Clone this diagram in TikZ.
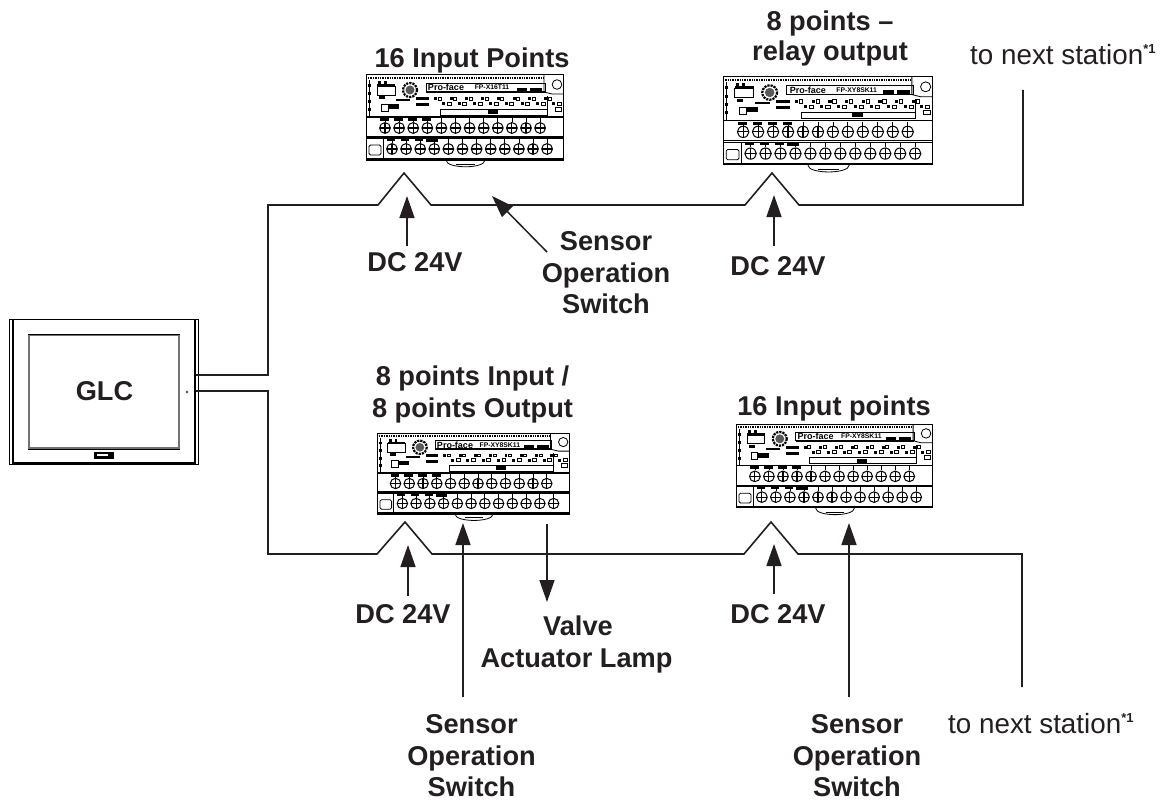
\documentclass[tikz,border=0pt]{standalone}
\usepackage{fontspec}
\setmainfont{Liberation Sans}
\usetikzlibrary{arrows.meta}
\definecolor{ink}{HTML}{231F20}
\tikzset{
  x=1pt,y=-1pt,
  bus/.style={draw=ink,line width=1.6pt,line join=miter},
  sig/.style={draw=ink,line width=1.5pt,-{Triangle[length=22pt,width=15pt]}},
  lab/.style={text=ink,anchor=base,font=\fontsize{27.2}{30}\selectfont\bfseries,inner sep=0pt},
  plain/.style={text=ink,anchor=base west,font=\fontsize{27.8}{30}\selectfont,inner sep=0pt},
  modline/.style={draw=black,line width=0.8pt},
  screw/.style={draw=black,line width=1pt,fill=white},
}
\newcommand{\nextnote}{to next station\raisebox{11pt}{\fontsize{13}{14}\selectfont\bfseries *1}}
\newcommand{\mymodule}[6]{% name,x,y,xscale,yscale,model
\begin{scope}[shift={(#2,#3)},xscale=#4,yscale=#5]
  \coordinate (#1) at (98,40);
  % tab
  \draw[modline] (80,85) .. controls (80,94) and (119,94) .. (119,85);
  \draw[modline] (90,89) -- (109,89);
  % body
  \draw[draw=black,line width=1pt,fill=white] (0,0) rectangle (197,85);
  \draw[black,line width=1.8pt] (0,84) -- (197,84);
  \draw[black,line width=1.4pt,densely dotted] (2,3) -- (178,3);
  % top-left details
  \draw[modline] (3,5) -- (3,42);
  \foreach \yy in {9,17,25,33} \fill[black] (2,\yy) rectangle (5,\yy+3);
  \draw[modline] (11,11) rectangle (29,20);
  \fill[black] (11,9) rectangle (29,12);
  \fill[black] (12,6) rectangle (15,10);
  \fill[black] (18,6) rectangle (21,10);
  \fill[black] (13,21) rectangle (19,24);
  \draw[modline] (15,29) rectangle (22,36);
  \fill[black] (22,29) rectangle (33,34);
  \fill[black] (30,24) rectangle (44,26);
  % dial
  \draw[black,line width=2.2pt,densely dotted] (44,15) circle (7);
  \fill[black!65] (44,15) circle (4.5);
  % name plate
  \draw[modline] (60,8) rectangle (179,17);
  \draw[black,line width=1.5pt] (60,17) -- (179,17);
  \node[inner sep=0pt,font=\fontsize{9}{10}\selectfont\bfseries] (#1p) at (80,12.5) {Pro-face};
  \node[inner sep=0pt,font=\fontsize{6.8}{8}\selectfont\bfseries] (#1q) at (126,12.5) {#6};
  \fill[black] (151,13) rectangle (161,16);
  \fill[black] (164,13) rectangle (176,16);
  % LEDs
  \fill[black] (50,22) rectangle (63,25);
  \fill[black] (50,28) rectangle (63,31);
  \foreach \i in {0,...,7} {
    \draw[black,line width=0.7pt] (72+\i*15.7,22) rectangle (75+\i*15.7,25);
    \fill[black] (68+\i*15.7,22) rectangle (71+\i*15.7,25);
    \draw[black,line width=0.7pt] (81+\i*15.7,27) rectangle (85+\i*15.7,30);
    \fill[black] (76+\i*15.7,27) rectangle (79+\i*15.7,30);
  }
  % right corner
  \draw[modline] (178,0) -- (178,17) -- (186,19) -- (197,19);
  \draw[modline] (191,9.5) circle (4.8);
  \draw[modline] (181,21) -- (181,39);
  \draw[modline] (189,32) rectangle (195,36);
  % group bar
  \draw[modline] (74,34) rectangle (181,40);
  \fill[black] (122,35) rectangle (132,39);
  % terminal strips
  \draw[black,line width=1.1pt] (0,42) -- (197,42);
  \draw[black,line width=1.1pt] (0,63) -- (197,63);
  \draw[black,line width=0.5pt] (0,61.5) -- (197,61.5);
  \draw[modline] (17,63) -- (17,84);
  \draw[modline,rounded corners=1.5pt] (3,70) rectangle (15,80);
  \foreach \i in {0,...,11} {
    \draw[black,line width=0.8pt] (19+\i*14.1,43) -- (19+\i*14.1,47);
    \draw[screw] (19+\i*14.1,53) circle (5.4);
    \draw[black,line width=1.1pt] (19+\i*14.1,48) -- (19+\i*14.1,58) (14+\i*14.1,53) -- (24+\i*14.1,53);
    \draw[black,line width=0.8pt] (26+\i*14.1,64) -- (26+\i*14.1,68);
    \draw[screw] (26+\i*14.1,74) circle (5.4);
    \draw[black,line width=1.1pt] (26+\i*14.1,69) -- (26+\i*14.1,79) (21+\i*14.1,74) -- (31+\i*14.1,74);
  }
  \foreach \i in {0,1,2,3} \fill[black] (14+\i*14.1,43) rectangle (23+\i*14.1,46);
  \foreach \i in {0,1,2} \fill[black] (21+\i*14.1,64) rectangle (29+\i*14.1,66);
  \fill[black] (60,64) rectangle (72,67);
\end{scope}}
\begin{document}
\begin{tikzpicture}
\useasboundingbox (0,0) rectangle (1168,800);
\fill[white] (0,0) rectangle (1168,800);
% GLC
\draw[black,line width=1pt] (9,319) rectangle (198,464);
\draw[black,line width=1.2pt] (13,319) -- (13,464) (195,319) -- (195,464);
\draw[black,line width=1.4pt] (13,463) -- (195,463);
\draw[black!55,line width=2pt] (29,335) rectangle (179,448);
\draw[black,line width=0.6pt] (28,334) -- (180,334) (28,449) -- (180,449);
\fill[black] (94,452) rectangle (114,459);
\fill[white] (97,454) rectangle (108,456);
\fill[black!70] (187,392) circle (1.4);
\node[lab] (glc) at (104.5,400) {GLC};
\coordinate (gt) at (196,375);
\coordinate (gb) at (196,391);
% Modules
\mymodule{m1}{366}{75}{1}{1}{FP-X16T11}
\mymodule{m2}{723}{77}{1.061}{1.035}{FP-XY8SK11}
\mymodule{m3}{377}{433}{0.975}{0.953}{FP-XY8SK11}
\mymodule{m4}{736}{424}{0.995}{0.988}{FP-XY8SK11}
% Titles
\node[lab] (t1) at (472,67) {16 Input Points};
\node[lab] (t2a) at (830,31) {8 points –};
\node[lab] (t2b) at (830,61) {relay output};
\node[lab] (t3a) at (472.5,385) {8 points Input /};
\node[lab] (t3b) at (472.5,417) {8 points Output};
\node[lab] (t4) at (834,415) {16 Input points};
\node[plain] (n1) at (970,65) {\nextnote};
\node[plain] (n2) at (948,733) {\nextnote};
% Buses
\coordinate (ta) at (268,375); \coordinate (tb) at (268,205);
\coordinate (a1) at (378,205); \coordinate (a2) at (404,173); \coordinate (a3) at (431,205);
\coordinate (b1) at (745,205); \coordinate (b2) at (772,173); \coordinate (b3) at (799,205);
\coordinate (tc) at (1023,205); \coordinate (td) at (1023,90);
\coordinate (la) at (268,391); \coordinate (lb) at (268,554);
\coordinate (c1) at (377,554); \coordinate (c2) at (405,522); \coordinate (c3) at (432,554);
\coordinate (d1) at (744,554); \coordinate (d2) at (771,522); \coordinate (d3) at (798,554);
\coordinate (lc) at (1022,554); \coordinate (ld) at (1022,687);
\draw[bus] (gt) -- (ta) -- (tb) -- (a1) -- (a2) -- (a3) -- (b1) -- (b2) -- (b3) -- (tc) -- (td);
\draw[bus] (gb) -- (la) -- (lb) -- (c1) -- (c2) -- (c3) -- (d1) -- (d2) -- (d3) -- (lc) -- (ld);
% Labels under arrows
\node[lab] (dc1) at (415,271) {DC 24V};
\node[lab] (dc2) at (778,275) {DC 24V};
\node[lab] (dc3) at (403,623) {DC 24V};
\node[lab] (dc4) at (778,623) {DC 24V};
\node[lab] (s1a) at (606,250) {Sensor};
\node[lab] (s1b) at (606,282) {Operation};
\node[lab] (s1c) at (606,313) {Switch};
\node[lab] (s2a) at (471.5,733) {Sensor};
\node[lab] (s2b) at (471.5,765) {Operation};
\node[lab] (s2c) at (471.5,796) {Switch};
\node[lab] (s3a) at (857,733) {Sensor};
\node[lab] (s3b) at (857,765) {Operation};
\node[lab] (s3c) at (857,796) {Switch};
\node[lab] (v1) at (578,635) {Valve};
\node[lab] (v2) at (576.5,667) {Actuator Lamp};
% Signal arrows
\coordinate (p1) at (407,246); \coordinate (p1t) at (407,196);
\coordinate (p2) at (774,246); \coordinate (p2t) at (774,195);
\coordinate (p3) at (408,596); \coordinate (p3t) at (408,545);
\coordinate (p4) at (774,594); \coordinate (p4t) at (774,544);
\coordinate (q1) at (547,252); \coordinate (q1t) at (492,196);
\coordinate (q2) at (463,697); \coordinate (q2t) at (463,523);
\coordinate (q3) at (849,697); \coordinate (q3t) at (849,523);
\coordinate (r1) at (547,524); \coordinate (r1t) at (547,602);
\foreach \f/\t in {p1/p1t,p2/p2t,p3/p3t,p4/p4t,q1/q1t,q2/q2t,q3/q3t,r1/r1t}
  \draw[sig] (\f) -- (\t);
\end{tikzpicture}
\end{document}
